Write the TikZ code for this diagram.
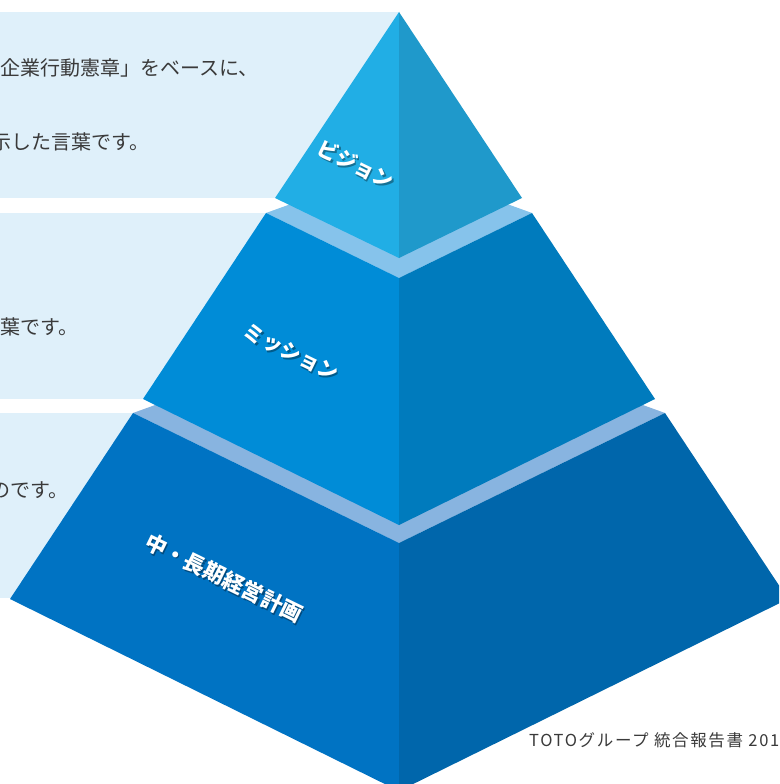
\documentclass[tikz,border=0pt]{standalone}
\usepackage{fontspec}
\newfontfamily\jp{Noto Sans CJK JP}
\newfontfamily\jpfoot{Noto Sans CJK JP}[LetterSpace=10]
\definecolor{panel}{HTML}{DFF0FA}
\definecolor{visL}{HTML}{21AEE5}
\definecolor{visR}{HTML}{1F99CB}
\definecolor{misL}{HTML}{008CD7}
\definecolor{misR}{HTML}{007BBD}
\definecolor{basL}{HTML}{0073C3}
\definecolor{basR}{HTML}{0066AB}
\definecolor{bandA}{HTML}{86C3EB}
\definecolor{bandB}{HTML}{88B4E0}
\definecolor{txt}{HTML}{3A3A3A}
\begin{document}
\begin{tikzpicture}[x=1pt,y=-1pt,
  paneltext/.style={anchor=west, inner sep=0pt, text=txt, font=\jp\fontsize{20}{24}\selectfont},
  tierlabel/.style={inner sep=0pt, text=white, font=\jp\bfseries\fontsize{#1}{24}\selectfont, rotate=-26},
  tiershadow/.style={tierlabel=#1, text=black, opacity=0.35},
  foot/.style={anchor=west, inner sep=0pt, text=txt, font=\jpfoot\fontsize{16.5}{20}\selectfont}]
\useasboundingbox (0,0) rectangle (779,784);
\clip (0,0) rectangle (779,784);
\fill[white] (0,0) rectangle (779,784);
% background panels
\fill[panel] (0,12) rectangle (399,198);
\fill[panel] (0,213) rectangle (399,399);
\fill[panel] (0,413) rectangle (399,598);
% panel texts
\node[paneltext] (t1) at (0,68) {企業行動憲章」をベースに、};
\node[paneltext] (t2) at (-9,142) {示した言葉です。};
\node[paneltext] (t3) at (0,327) {葉です。};
\node[paneltext] (t4) at (-10,490) {のです。};
% coordinates
\coordinate (apex) at (399,12);
\coordinate (vl) at (275,198);
\coordinate (vf) at (399,258);
\coordinate (vr) at (522,198);
\coordinate (ml) at (266,213);
\coordinate (mf) at (399,278);
\coordinate (mr) at (532,213);
\coordinate (mb) at (399,165);
\coordinate (mbl) at (143,399);
\coordinate (mbf) at (399,525);
\coordinate (mbr) at (655,399);
\coordinate (bl) at (133,413);
\coordinate (bf) at (399,543);
\coordinate (br) at (665,413);
\coordinate (bb) at (399,317);
\coordinate (bbl) at (10,599);
\coordinate (bbf) at (399,791);
\coordinate (bbr) at (788,599);
% base tier
\fill[bandB] (bl) -- (bf) -- (br) -- (bb) -- cycle;
\fill[basL] (bl) -- (bf) -- (bbf) -- (bbl) -- cycle;
\fill[basR] (bf) -- (br) -- (bbr) -- (bbf) -- cycle;
% mission tier
\fill[bandA] (ml) -- (mf) -- (mr) -- (mb) -- cycle;
\fill[misL] (ml) -- (mf) -- (mbf) -- (mbl) -- cycle;
\fill[misR] (mf) -- (mr) -- (mbr) -- (mbf) -- cycle;
% vision tier
\fill[visL] (apex) -- (vl) -- (vf) -- cycle;
\fill[visR] (apex) -- (vf) -- (vr) -- cycle;
% labels
\node[tiershadow=20.5] at (357.5,165.8) {ビジョン};
\node[tierlabel=20.5] (vision) at (356,164) {ビジョン};
\node[tiershadow=20.5] at (292.5,354.8) {ミッション};
\node[tierlabel=20.5] (mission) at (291,353) {ミッション};
\node[tiershadow=21.5] at (225.5,579.8) {中・長期経営計画};
\node[tierlabel=21.5] (plan) at (224,578) {中・長期経営計画};
% footer
\node[foot] (footer) at (529,740) {TOTOグループ 統合報告書 201};
\end{tikzpicture}
\end{document}
